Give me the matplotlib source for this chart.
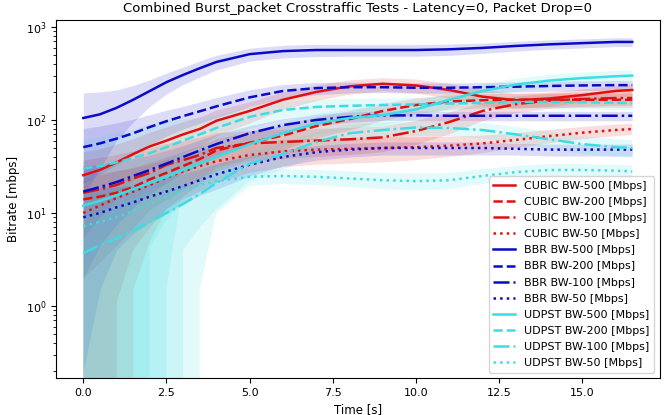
import numpy as np
import matplotlib
matplotlib.use('Agg')
import matplotlib.pyplot as plt

# time axis [s]
time_s = [0, 0.5, 1, 1.5, 2, 2.5, 3, 3.5, 4, 5, 6, 7, 8, 9, 10, 11, 12, 13, 14, 15, 16, 16.5]

# mean bitrate [Mbps] and std per test
cubic_500 = [25.5, 29, 35, 43, 52, 60, 70, 80, 98, 125, 165, 200, 230, 245, 235, 210, 178, 163, 170, 185, 205, 210]
cubic_500_std = [20, 20, 20, 20, 22, 24, 26, 28, 30, 32, 35, 38, 40, 40, 40, 38, 35, 30, 30, 30, 30, 30]
cubic_200 = [14, 15, 16.5, 19, 23, 27, 32, 38, 47, 57, 68, 86, 102, 125, 145, 158, 163, 165, 165, 165, 165, 165]
cubic_200_std = [12, 12, 12, 12, 12, 13, 14, 15, 16, 18, 20, 22, 24, 26, 28, 28, 28, 28, 28, 28, 28, 28]
cubic_100 = [16.5, 18, 20, 23.5, 27, 33, 37, 42, 50, 56, 58, 60, 62, 65, 76, 95, 125, 148, 162, 168, 172, 172]
cubic_100_std = [20, 21, 22, 22, 22, 22, 22, 22, 22, 20, 20, 20, 20, 20, 22, 25, 28, 30, 30, 30, 30, 30]
cubic_50 = [10, 12, 14.5, 17, 20, 24, 28, 32, 36, 42, 46, 48, 49, 50, 51, 53, 56, 61, 67, 73, 78, 80]
cubic_50_std = [12, 13, 13.4, 13, 13, 13, 14, 15, 15, 15, 15, 15, 15, 15, 14, 13, 12, 11, 11, 11, 11, 11]

bbr_500 = [105, 115, 135, 165, 205, 255, 305, 360, 420, 510, 550, 565, 565, 565, 565, 575, 595, 625, 650, 670, 690, 690]
bbr_500_std = [90, 85, 75, 70, 65, 65, 65, 70, 75, 80, 85, 85, 80, 80, 80, 80, 75, 75, 75, 75, 75, 75]
bbr_200 = [51, 56, 63, 72, 84, 97, 110, 124, 140, 175, 205, 220, 225, 225, 222, 222, 225, 228, 232, 235, 237, 237]
bbr_200_std = [30, 30, 30, 30, 30, 30, 30, 32, 34, 36, 35, 33, 30, 28, 28, 28, 28, 28, 28, 28, 28, 28]
bbr_100 = [17, 19, 21.5, 25, 29, 34, 40, 47, 55, 72, 88, 100, 108, 112, 112, 111, 111, 111, 111, 111, 111, 111]
bbr_100_std = [15, 14.5, 14, 13.5, 13, 13, 13, 14, 15, 15, 15, 14, 13, 13, 13, 13, 13, 13, 13, 13, 13, 13]
bbr_50 = [9, 10, 11.5, 13, 15, 17, 19.5, 22.5, 26, 33, 40, 45, 48, 50, 50, 50, 50, 49, 48, 48, 48, 48]
bbr_50_std = [8.8, 8.5, 7.5, 7, 7, 7, 7, 7, 8, 8, 8, 8, 8, 8, 8, 8, 8, 7, 7, 7, 7, 7]

udpst_500 = [12, 13.5, 15.5, 18, 21, 24.5, 29, 34, 40, 55, 72, 92, 105, 113, 130, 165, 205, 240, 265, 282, 295, 300]
udpst_500_std = [14, 15, 17, 19, 16.7, 16, 16, 17, 18, 20, 22, 24, 25, 26, 28, 32, 35, 38, 40, 40, 40, 40]
udpst_200 = [30, 32, 35, 39, 44, 51, 60, 70, 82, 108, 128, 138, 142, 145, 147, 150, 153, 156, 156, 155, 153, 152]
udpst_200_std = [31, 33, 36, 40, 45, 49.4, 40, 35, 30, 28, 28, 27, 26, 25, 25, 25, 25, 25, 25, 25, 25, 25]
udpst_100 = [3.7, 4.5, 5.3, 6.5, 8, 10, 12.5, 16, 21, 34, 43, 58, 72, 78, 83, 82, 78, 70, 62, 55, 51, 50]
udpst_100_std = [5, 6, 7, 8, 9, 11, 8.5, 9, 10, 12, 14, 16, 16, 15, 15, 15, 15, 14, 13, 12, 11, 11]
udpst_50 = [7.2, 8, 9, 10.5, 12.5, 15, 17.5, 20, 22, 24.5, 25, 24.5, 23.5, 22.5, 22, 22.5, 25, 27.5, 29, 29, 28.5, 28]
udpst_50_std = [9, 10, 11, 12, 13, 15.5, 17.8, 18.5, 12, 5, 4.5, 4.5, 4.5, 4.5, 4.5, 4.5, 4.5, 4.5, 4.5, 4.5, 4.5, 4.5]

protocols = ['CUBIC', 'BBR', 'UDPST']
bandwidths = [500, 200, 100, 50]
series = {
    'CUBIC': [(cubic_500, cubic_500_std), (cubic_200, cubic_200_std),
              (cubic_100, cubic_100_std), (cubic_50, cubic_50_std)],
    'BBR': [(bbr_500, bbr_500_std), (bbr_200, bbr_200_std),
            (bbr_100, bbr_100_std), (bbr_50, bbr_50_std)],
    'UDPST': [(udpst_500, udpst_500_std), (udpst_200, udpst_200_std),
              (udpst_100, udpst_100_std), (udpst_50, udpst_50_std)],
}
colors = {'CUBIC': '#e01010', 'BBR': '#0a0ac8', 'UDPST': '#3cdde2'}
styles = ['-', '--', '-.', ':']

fig, ax = plt.subplots(figsize=(6.65, 4.15), dpi=100)
t = np.array(time_s)

for proto in protocols:
    for bw, ls, (mean, std) in zip(bandwidths, styles, series[proto]):
        mean = np.array(mean)
        std = np.array(std)
        ax.plot(t, mean, linestyle=ls, color=colors[proto], linewidth=1.8,
                label=f'{proto} BW-{bw} [Mbps]')
        ax.fill_between(t, mean - std, mean + std, color=colors[proto], alpha=0.14, linewidth=0)

ax.set_yscale('log')
ax.set_ylim(0.168, 1190)
ax.set_xticks([0, 2.5, 5, 7.5, 10, 12.5, 15])
ax.tick_params(labelsize=8)
ax.set_xlabel('Time [s]', fontsize=8.5)
ax.set_ylabel('Bitrate [mbps]', fontsize=8.5)
ax.set_title('Combined Burst_packet Crosstraffic Tests - Latency=0, Packet Drop=0', fontsize=9.5)
ax.legend(loc='lower right', fontsize=8, labelspacing=0.55)

plt.subplots_adjust(left=0.084, right=0.992, top=0.952, bottom=0.089)
plt.savefig('out.png', dpi=100)
